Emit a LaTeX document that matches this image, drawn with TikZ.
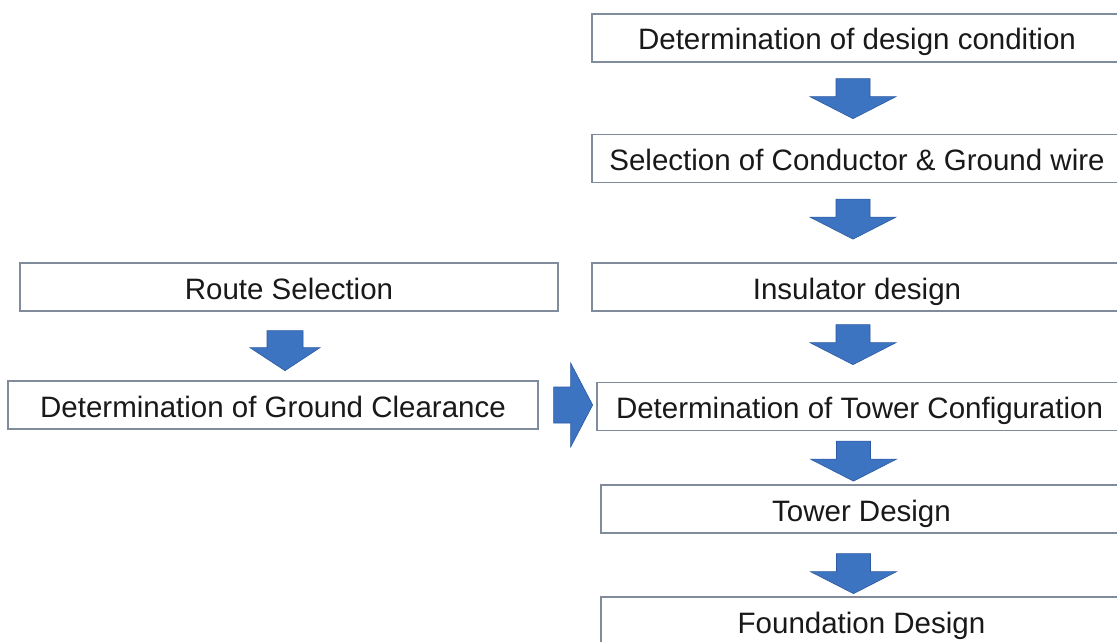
\documentclass[tikz,border=0pt]{standalone}
\usepackage{fontspec}
\setmainfont{Liberation Sans}
\begin{document}
\begin{tikzpicture}[x=1pt,y=-1pt,
  box/.style={draw=boxline, line width=1.3pt, fill=white, inner sep=0pt,
    text=textgray, font=\fontsize{29.5}{34}\selectfont, minimum height=48pt,
    text height=24pt, text depth=0pt},
  arrowfill/.style={fill=arrblue, draw=arrdark, line width=0.6pt},
  downarr/.pic={\path[arrowfill] (-17,0) -- (17,0) -- (17,18) -- (43,18) -- (0,40) -- (-43,18) -- (-17,18) -- cycle;},
  downarrl/.pic={\path[arrowfill] (-18,0) -- (18,0) -- (18,17) -- (35,17) -- (0,40) -- (-35,17) -- (-18,17) -- cycle;},
  rightarr/.pic={\path[arrowfill] (0,-18) -- (17,-18) -- (17,-42) -- (39,0) -- (17,42) -- (17,18) -- (0,18) -- cycle;}
]
\definecolor{boxline}{RGB}{128,140,155}
\definecolor{textgray}{RGB}{25,25,25}
\definecolor{arrblue}{RGB}{60,116,194}
\definecolor{arrdark}{RGB}{45,90,160}
\useasboundingbox (0,0) rectangle (1117,642);
\fill[white] (0,0) rectangle (1117,642);

% right column
\node[box, minimum width=530pt] (dc) at (857,38) {Determination of design condition};
\node[box, minimum width=530pt] (cg) at (857,158.5) {Selection of Conductor \& Ground wire};
\node[box, minimum width=530pt] (ins) at (857,287) {Insulator design};
\node[box, minimum width=525pt] (tc) at (859.5,406.5) {Determination of Tower Configuration};
\node[box, minimum width=521pt] (td) at (861.5,509) {Tower Design};
\node[box, minimum width=521pt] (fd) at (861.5,621) {Foundation Design};

% left column
\node[box, minimum width=538pt] (rs) at (289,287) {Route Selection};
\node[box, minimum width=530pt] (gc) at (273,405) {Determination of Ground Clearance};

% block arrows
\path (dc.south) ++(-4,16) pic {downarr};
\path (cg.south) ++(-4,16) pic {downarr};
\path (ins.south) ++(-4,13) pic {downarr};
\path (tc.south) ++(-6,10) pic {downarr};
\path (td.south) ++(-8,20) pic {downarr};
\path (rs.south) ++(-4,19) pic {downarrl};
\path (gc.east) ++(15,0) pic {rightarr};
\end{tikzpicture}
\end{document}
